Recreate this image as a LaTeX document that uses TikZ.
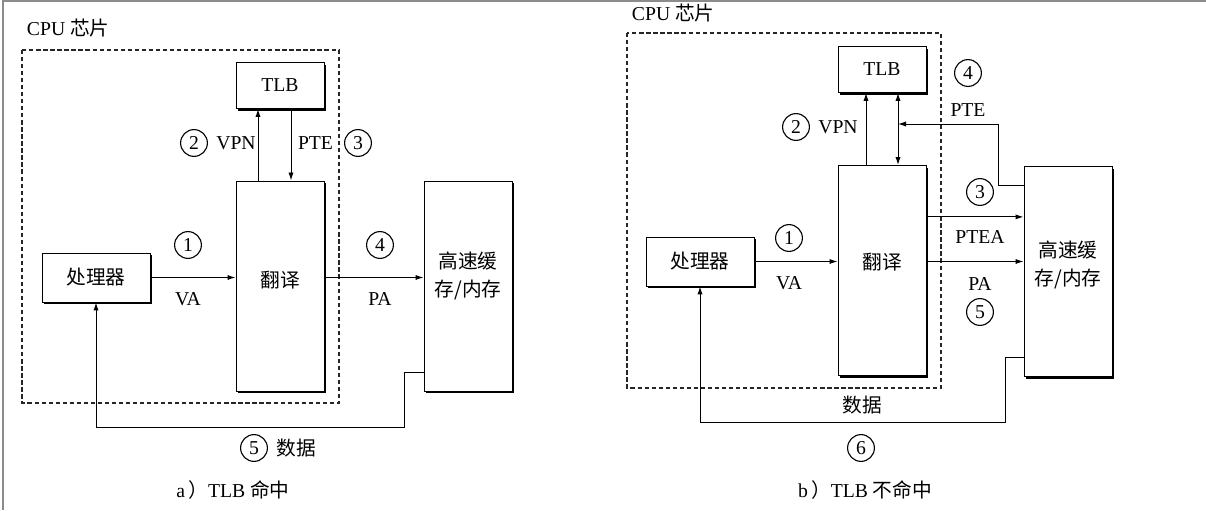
\documentclass[tikz,border=0pt]{standalone}
\usepackage{fontspec}
\setmainfont{Liberation Serif}
\newfontfamily\cjk{Noto Sans CJK SC}
\usetikzlibrary{arrows.meta,calc,shadows}
\newcommand{\labsize}{\fontsize{14}{20}\selectfont}
\tikzset{
  flow/.style={-{Latex[length=2mm,width=1.3mm]},line width=0.7pt},
  twoway/.style={{Latex[length=2mm,width=1.3mm]}-{Latex[length=2mm,width=1.3mm]},line width=0.7pt},
  chip/.style={draw=black!85,line width=1pt,dash pattern=on 3pt off 2pt},
  unit/.style={draw=black,line width=0.7pt,fill=white,
               drop shadow={shadow xshift=1.6pt,shadow yshift=-1.6pt,fill=black,opacity=1},
               inner sep=2pt,align=center,font=\labsize},
  tall/.style={unit,minimum width=22mm,minimum height=52.5mm},
  cpu/.style={unit,minimum width=27mm,minimum height=12.25mm,font=\labsize\cjk},
  tlbbox/.style={unit,minimum width=22mm,minimum height=11.5mm},
  num/.style={draw,circle,line width=0.8pt,minimum size=6.7mm,inner sep=0pt,font=\labsize},
  lab/.style={font=\labsize},
  cjklab/.style={font=\labsize\cjk,align=center},
}
\begin{document}
\begin{tikzpicture}[x=1cm,y=1cm]
  \path[use as bounding box] (0,0) rectangle (30.15,12.75);
  \draw[black!45,line width=1pt] (0.07,0) -- (0.07,12.72) -- (30.15,12.72);

  % a) TLB hit
  \node[lab,anchor=west] (achip) at (0.55,12.05) {CPU {\cjk 芯片}};
  \draw[chip] (0.55,11.5) rectangle (8.475,2.675);
  \node[tlbbox] (atlb) at (7.0,10.6125) {TLB};
  \node[tall] (atrans) at (7.0,5.6) {};
  \node[cjklab] (atranstxt) at (7.0,5.75) {翻译};
  \node[cpu] (aproc) at (2.4,5.8125) {处理器};
  \node[tall] (acache) at (11.7,5.6) {};
  \node[cjklab] (acachetxt) at (11.7,5.85) {高速缓\\存/内存};

  \draw[flow] (aproc.east) -- (aproc.east -| atrans.west);
  \draw[flow] ([xshift=-5.5mm]atrans.north) -- ([xshift=-5.5mm]atlb.south);
  \draw[flow] ([xshift=2.75mm]atlb.south) -- ([xshift=2.75mm]atrans.north);
  \draw[flow] (aproc.east -| atrans.east) -- (aproc.east -| acache.west);
  \coordinate (abend) at (10.1,2.075);
  \draw[flow] ([yshift=-21.5mm]acache.west) -| (abend) -| (aproc.south);

  \node[num] (a1) at (4.7,6.625) {1};
  \node[lab] (ava) at (4.7,5.275) {VA};
  \node[num] (a2) at (4.85,9.175) {2};
  \node[lab] (avpn) at (5.9,9.175) {VPN};
  \node[lab] (apte) at (7.8875,9.175) {PTE};
  \node[num] (a3) at (8.95,9.175) {3};
  \node[num] (a4) at (9.5,6.625) {4};
  \node[lab] (apa) at (9.5,5.275) {PA};
  \node[num] (a5) at (6.35,1.55) {5};
  \node[cjklab] (adata) at (7.4,1.55) {数据};
  \node[lab] (acap) at (5.825,0.5) {a\,{\cjk ）}TLB {\cjk 命中}};

  % b) TLB miss
  \node[lab,anchor=west] (bchip) at (15.675,12.425) {CPU {\cjk 芯片}};
  \draw[chip] (15.675,11.925) rectangle (23.525,3.05);
  \node[tlbbox] (btlb) at (22.05,11.0125) {TLB};
  \node[tall] (btrans) at (22.05,5.9875) {};
  \node[cjklab] (btranstxt) at (22.05,6.2) {翻译};
  \node[cpu] (bproc) at (17.5,6.2125) {处理器};
  \node[tall] (bcache) at (26.7,5.9625) {};
  \node[cjklab] (bcachetxt) at (26.7,6.125) {高速缓\\存/内存};

  \draw[flow] (bproc.east) -- (bproc.east -| btrans.west);
  \draw[flow] ([xshift=-4mm]btrans.north) -- ([xshift=-4mm]btlb.south);
  \draw[twoway] ([xshift=4mm]btlb.south) -- ([xshift=4mm]btrans.north);
  \coordinate (bptein) at (22.45,9.65);
  \draw[flow] ([yshift=-4.75mm]bcache.north west) -- ++(-0.625,0) |- (bptein);
  \draw[flow] ([yshift=13.4mm]btrans.east) -- ([yshift=13.4mm]btrans.east -| bcache.west);
  \draw[flow] (bproc.east -| btrans.east) -- (bproc.east -| bcache.west);
  \coordinate (bbend) at (25.125,2.2);
  \draw[flow] ([yshift=-21.375mm]bcache.west) -| (bbend) -| (bproc.south);

  \node[num] (b1) at (19.725,6.8) {1};
  \node[lab] (bva) at (19.725,5.675) {VA};
  \node[num] (b2) at (19.9,9.575) {2};
  \node[lab] (bvpn) at (20.95,9.575) {VPN};
  \node[num] (b4) at (24.2,10.925) {4};
  \node[lab] (bpte) at (24.2,10.0) {PTE};
  \node[num] (b3) at (24.5,7.95) {3};
  \node[lab] (bptea) at (24.5,6.825) {PTEA};
  \node[lab] (bpa) at (24.5,5.65) {PA};
  \node[num] (b5) at (24.5,4.95) {5};
  \node[cjklab] (bdata) at (21.55,2.625) {数据};
  \node[num] (b6) at (21.525,1.55) {6};
  \node[lab] (bcap) at (21.625,0.5) {b\,{\cjk ）}TLB {\cjk 不命中}};
\end{tikzpicture}
\end{document}
